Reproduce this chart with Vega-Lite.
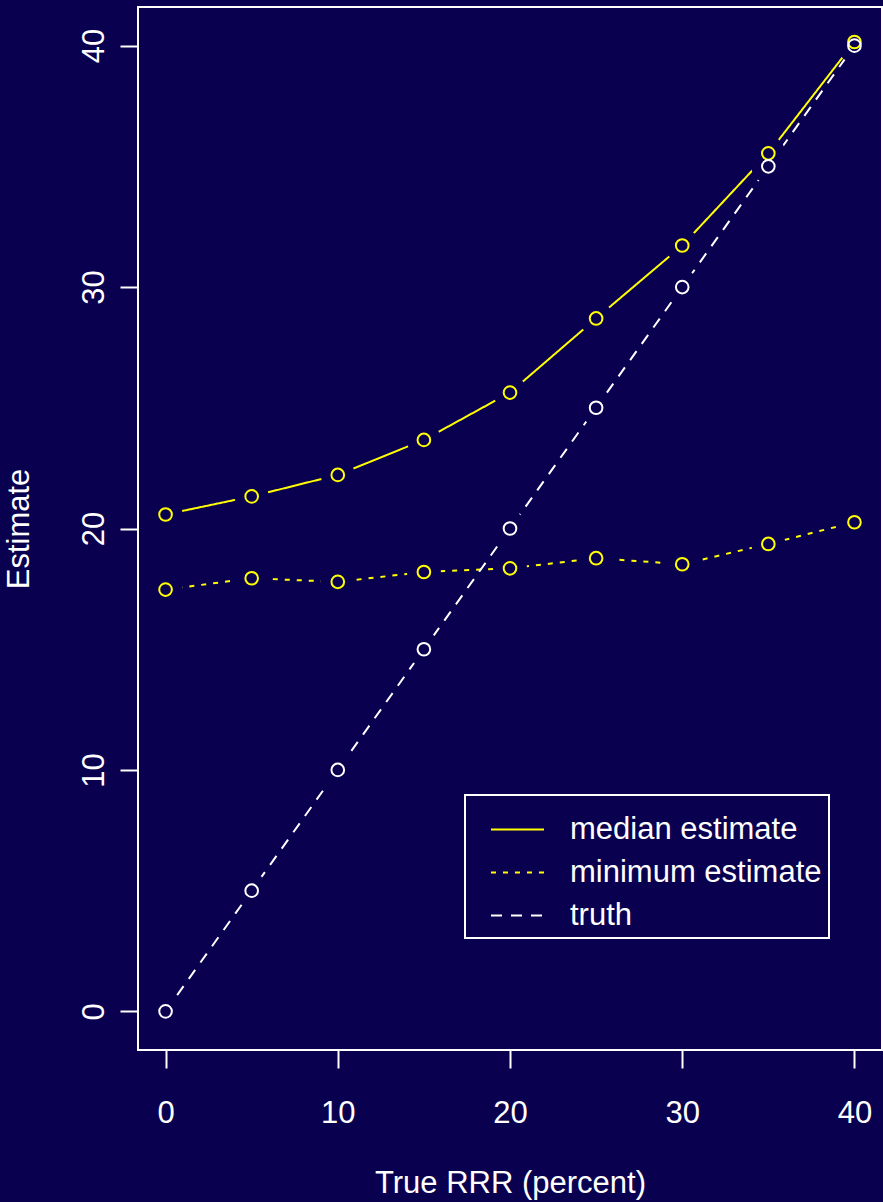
{
  "$schema": "https://vega.github.io/schema/vega-lite/v6.json",
  "width": 744,
  "height": 1043,
  "autosize": "none",
  "padding": {"left": 138, "top": 7, "right": 1, "bottom": 152},
  "background": "#0a0050",
  "config": {
    "font": "Liberation Sans",
    "view": {"stroke": "white", "strokeWidth": 2, "fill": "#0a0050"},
    "axis": {
      "domain": false,
      "grid": false,
      "tickColor": "white",
      "tickWidth": 2,
      "tickSize": 18,
      "labelColor": "white",
      "labelFontSize": 31,
      "titleColor": "white",
      "titleFontSize": 31,
      "titleFontWeight": "normal"
    },
    "legend": {
      "orient": "none",
      "legendX": 327,
      "legendY": 788,
      "strokeColor": "white",
      "strokeWidth": 2,
      "fillColor": "#0a0050",
      "padding": 7,
      "rowPadding": 0,
      "symbolType": "stroke",
      "symbolSize": 2809,
      "symbolStrokeWidth": 2,
      "symbolOffset": 18,
      "labelOffset": 25,
      "labelFontSize": 31,
      "labelColor": "white",
      "labelLimit": 400
    }
  },
  "data": {
    "values": [
      {"x": 0, "series": "median estimate", "y": 20.58},
      {"x": 5, "series": "median estimate", "y": 21.33},
      {"x": 10, "series": "median estimate", "y": 22.22},
      {"x": 15, "series": "median estimate", "y": 23.67},
      {"x": 20, "series": "median estimate", "y": 25.63},
      {"x": 25, "series": "median estimate", "y": 28.7},
      {"x": 30, "series": "median estimate", "y": 31.72},
      {"x": 35, "series": "median estimate", "y": 35.54},
      {"x": 40, "series": "median estimate", "y": 40.15},
      {"x": 0, "series": "minimum estimate", "y": 17.47},
      {"x": 5, "series": "minimum estimate", "y": 17.94},
      {"x": 10, "series": "minimum estimate", "y": 17.79},
      {"x": 15, "series": "minimum estimate", "y": 18.2},
      {"x": 20, "series": "minimum estimate", "y": 18.35},
      {"x": 25, "series": "minimum estimate", "y": 18.77},
      {"x": 30, "series": "minimum estimate", "y": 18.52},
      {"x": 35, "series": "minimum estimate", "y": 19.36},
      {"x": 40, "series": "minimum estimate", "y": 20.26},
      {"x": 0, "series": "truth", "y": 0},
      {"x": 5, "series": "truth", "y": 5},
      {"x": 10, "series": "truth", "y": 10},
      {"x": 15, "series": "truth", "y": 15},
      {"x": 20, "series": "truth", "y": 20},
      {"x": 25, "series": "truth", "y": 25},
      {"x": 30, "series": "truth", "y": 30},
      {"x": 35, "series": "truth", "y": 35},
      {"x": 40, "series": "truth", "y": 40}
    ]
  },
  "encoding": {
    "x": {
      "field": "x",
      "type": "quantitative",
      "scale": {"domain": [-1.6, 41.6], "nice": false, "zero": false},
      "axis": {"values": [0, 10, 20, 30, 40], "title": "True RRR (percent)", "labelPadding": 30, "titlePadding": 40}
    },
    "y": {
      "field": "y",
      "type": "quantitative",
      "scale": {"domain": [-1.6, 41.6], "nice": false, "zero": false},
      "axis": {"values": [0, 10, 20, 30, 40], "title": "Estimate", "labelAngle": -90, "labelAlign": "center", "labelBaseline": "alphabetic", "labelPadding": 17, "titlePadding": 43}
    }
  },
  "layer": [
    {
      "mark": {"type": "line", "strokeWidth": 2},
      "encoding": {
        "color": {
          "field": "series",
          "type": "nominal",
          "scale": {"domain": ["median estimate", "minimum estimate", "truth"], "range": ["#ffff00", "#ffff00", "#ffffff"]},
          "legend": {"title": null}
        },
        "strokeDash": {
          "field": "series",
          "type": "nominal",
          "scale": {"domain": ["median estimate", "minimum estimate", "truth"], "range": [[1, 0], [5, 7], [11, 9]]},
          "legend": {"title": null}
        }
      }
    },
    {
      "mark": {"type": "point", "filled": true, "shape": "circle", "size": 1156, "fill": "#0a0050", "strokeWidth": 0, "opacity": 1}
    },
    {
      "mark": {"type": "point", "filled": false, "shape": "circle", "size": 160, "strokeWidth": 2, "opacity": 1},
      "encoding": {
        "stroke": {
          "field": "series",
          "type": "nominal",
          "scale": {"domain": ["median estimate", "minimum estimate", "truth"], "range": ["#ffff00", "#ffff00", "#ffffff"]},
          "legend": null
        }
      }
    }
  ]
}
